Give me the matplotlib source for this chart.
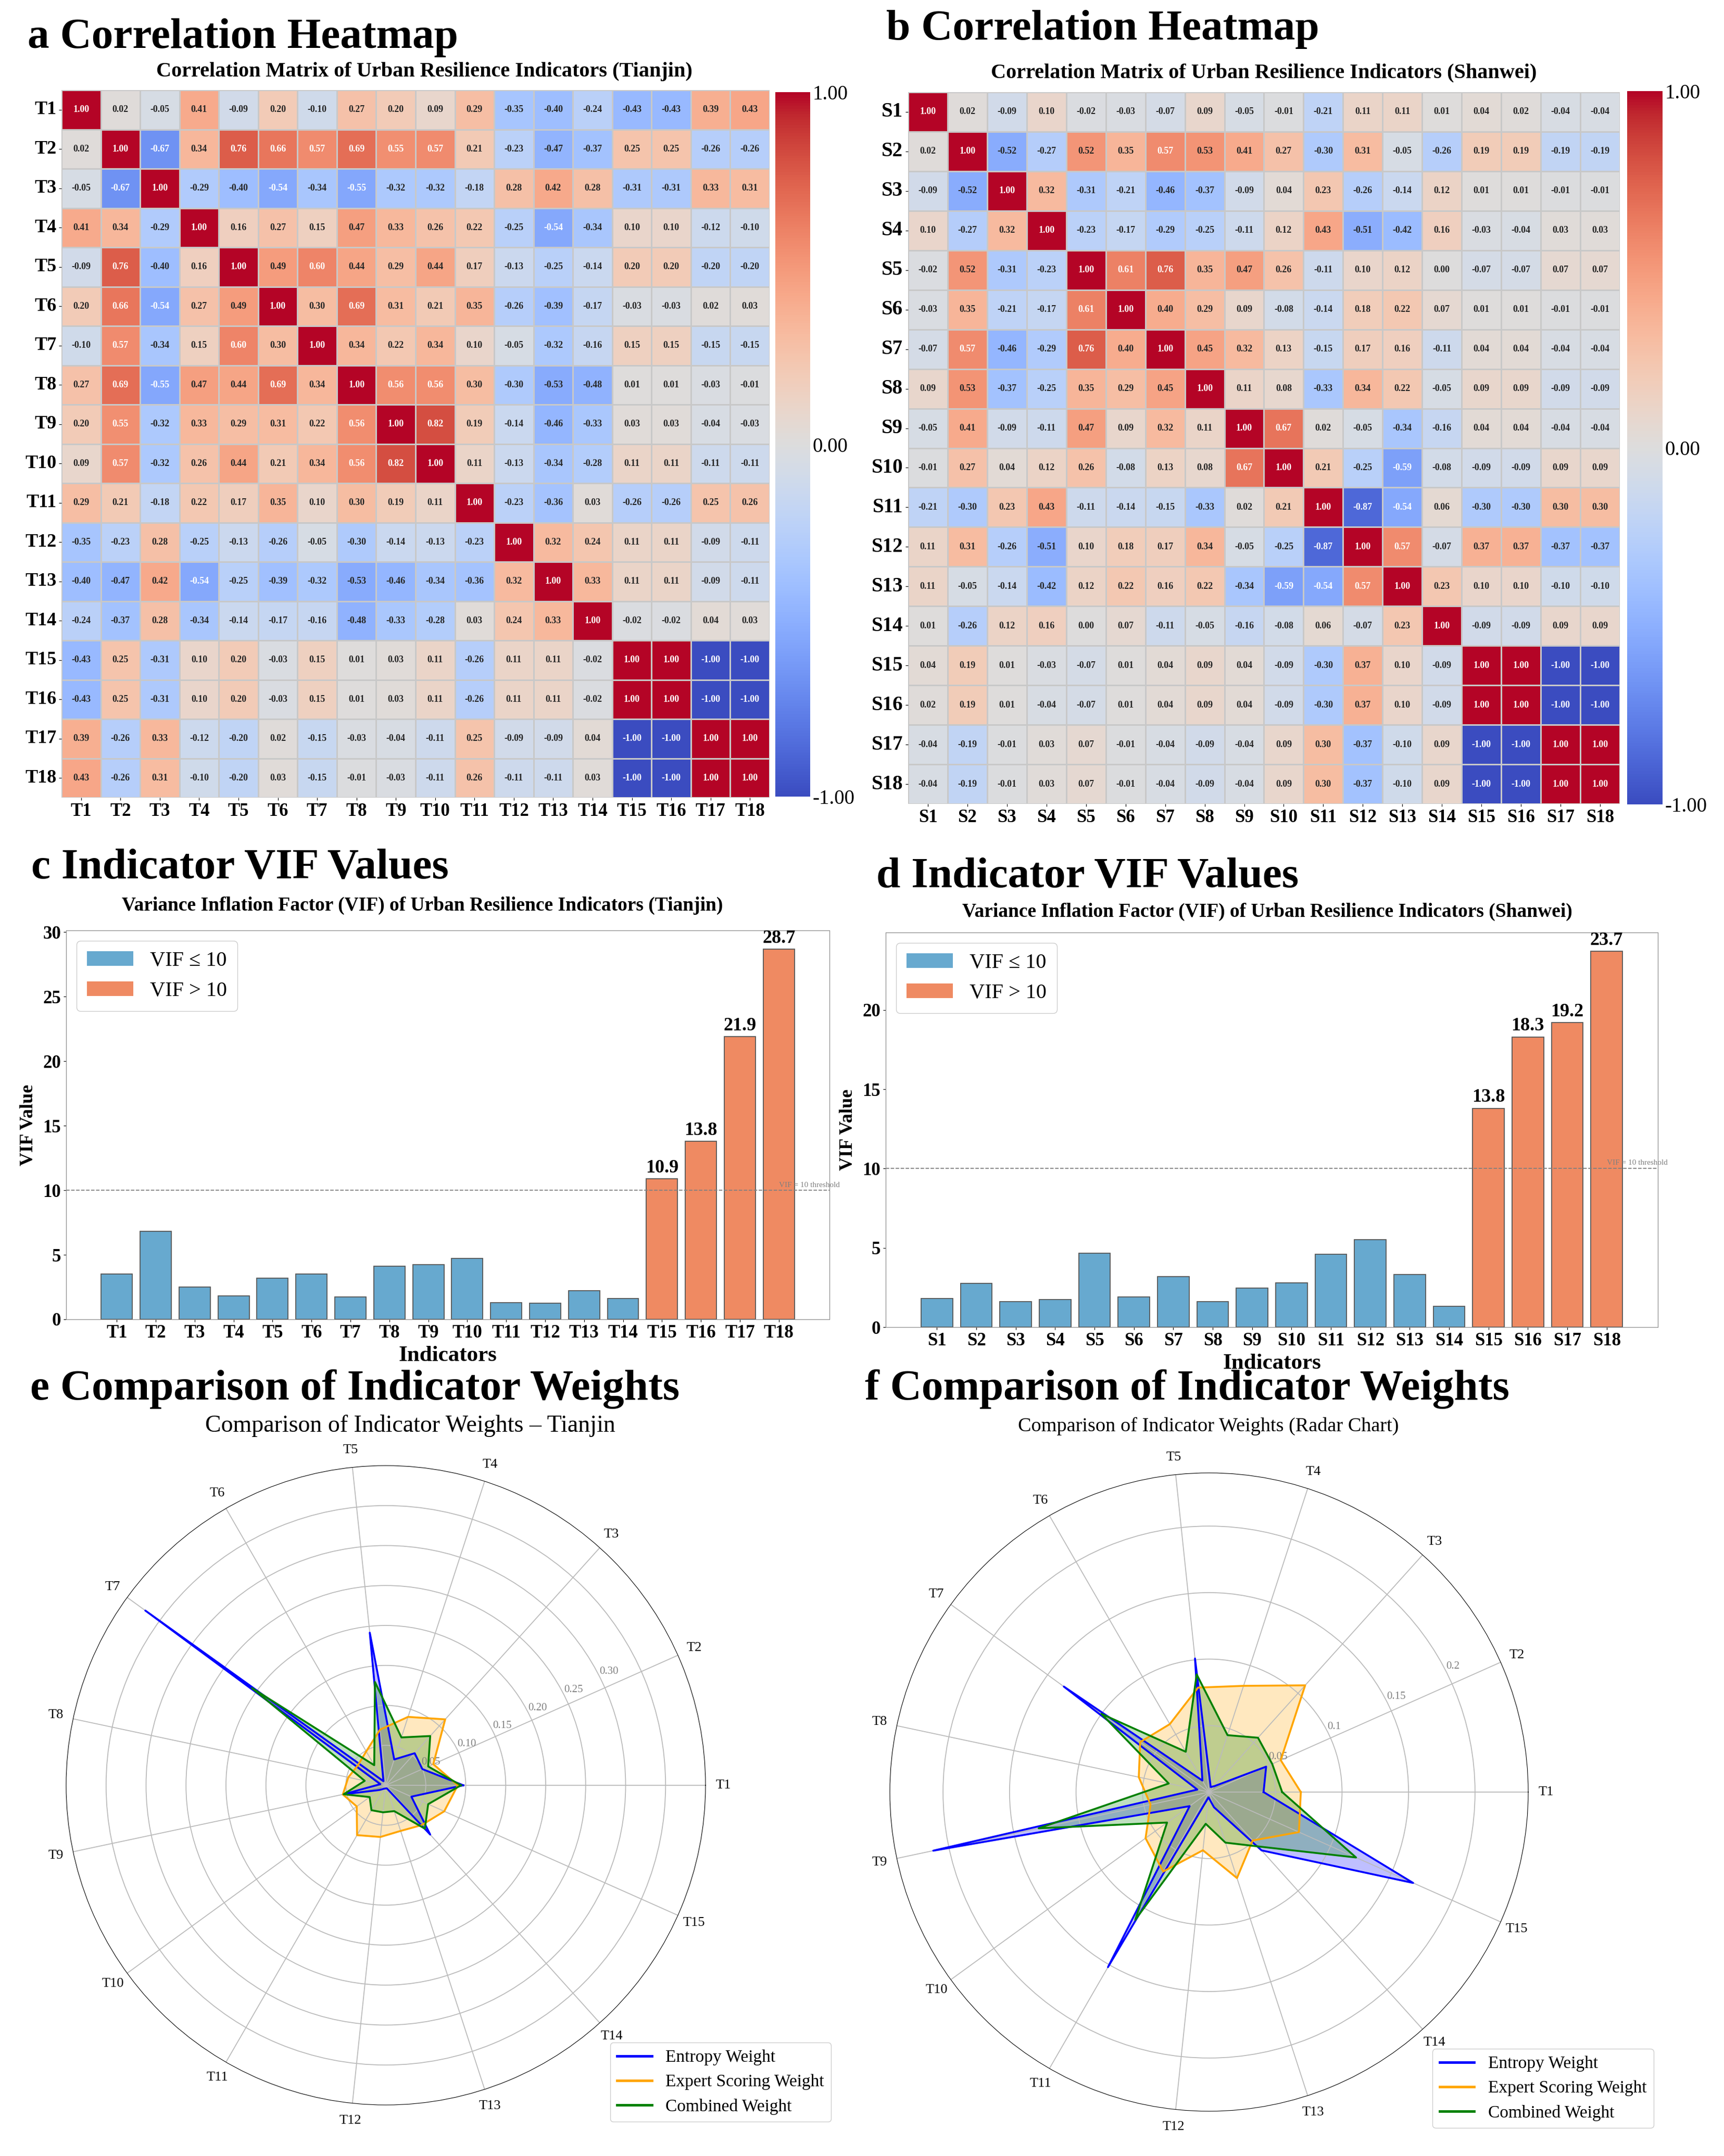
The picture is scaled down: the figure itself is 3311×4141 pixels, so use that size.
import numpy as np
import pandas as pd
import matplotlib
matplotlib.use('Agg')
import matplotlib.pyplot as plt
import seaborn as sns
from matplotlib.patches import Patch

plt.rcParams['font.family'] = ['Liberation Serif', 'DejaVu Serif']

# indicator names
tj_labels = ['T%d' % i for i in range(1, 19)]
sw_labels = ['S%d' % i for i in range(1, 19)]
radar_labels = ['T%d' % i for i in range(1, 16)]

# correlation matrix, Tianjin
tj_corr = [
    [1.00, 0.02, -0.05, 0.41, -0.09, 0.20, -0.10, 0.27, 0.20, 0.09, 0.29, -0.35, -0.40, -0.24, -0.43, -0.43, 0.39, 0.43],
    [0.02, 1.00, -0.67, 0.34, 0.76, 0.66, 0.57, 0.69, 0.55, 0.57, 0.21, -0.23, -0.47, -0.37, 0.25, 0.25, -0.26, -0.26],
    [-0.05, -0.67, 1.00, -0.29, -0.40, -0.54, -0.34, -0.55, -0.32, -0.32, -0.18, 0.28, 0.42, 0.28, -0.31, -0.31, 0.33, 0.31],
    [0.41, 0.34, -0.29, 1.00, 0.16, 0.27, 0.15, 0.47, 0.33, 0.26, 0.22, -0.25, -0.54, -0.34, 0.10, 0.10, -0.12, -0.10],
    [-0.09, 0.76, -0.40, 0.16, 1.00, 0.49, 0.60, 0.44, 0.29, 0.44, 0.17, -0.13, -0.25, -0.14, 0.20, 0.20, -0.20, -0.20],
    [0.20, 0.66, -0.54, 0.27, 0.49, 1.00, 0.30, 0.69, 0.31, 0.21, 0.35, -0.26, -0.39, -0.17, -0.03, -0.03, 0.02, 0.03],
    [-0.10, 0.57, -0.34, 0.15, 0.60, 0.30, 1.00, 0.34, 0.22, 0.34, 0.10, -0.05, -0.32, -0.16, 0.15, 0.15, -0.15, -0.15],
    [0.27, 0.69, -0.55, 0.47, 0.44, 0.69, 0.34, 1.00, 0.56, 0.56, 0.30, -0.30, -0.53, -0.48, 0.01, 0.01, -0.03, -0.01],
    [0.20, 0.55, -0.32, 0.33, 0.29, 0.31, 0.22, 0.56, 1.00, 0.82, 0.19, -0.14, -0.46, -0.33, 0.03, 0.03, -0.04, -0.03],
    [0.09, 0.57, -0.32, 0.26, 0.44, 0.21, 0.34, 0.56, 0.82, 1.00, 0.11, -0.13, -0.34, -0.28, 0.11, 0.11, -0.11, -0.11],
    [0.29, 0.21, -0.18, 0.22, 0.17, 0.35, 0.10, 0.30, 0.19, 0.11, 1.00, -0.23, -0.36, 0.03, -0.26, -0.26, 0.25, 0.26],
    [-0.35, -0.23, 0.28, -0.25, -0.13, -0.26, -0.05, -0.30, -0.14, -0.13, -0.23, 1.00, 0.32, 0.24, 0.11, 0.11, -0.09, -0.11],
    [-0.40, -0.47, 0.42, -0.54, -0.25, -0.39, -0.32, -0.53, -0.46, -0.34, -0.36, 0.32, 1.00, 0.33, 0.11, 0.11, -0.09, -0.11],
    [-0.24, -0.37, 0.28, -0.34, -0.14, -0.17, -0.16, -0.48, -0.33, -0.28, 0.03, 0.24, 0.33, 1.00, -0.02, -0.02, 0.04, 0.03],
    [-0.43, 0.25, -0.31, 0.10, 0.20, -0.03, 0.15, 0.01, 0.03, 0.11, -0.26, 0.11, 0.11, -0.02, 1.00, 1.00, -1.00, -1.00],
    [-0.43, 0.25, -0.31, 0.10, 0.20, -0.03, 0.15, 0.01, 0.03, 0.11, -0.26, 0.11, 0.11, -0.02, 1.00, 1.00, -1.00, -1.00],
    [0.39, -0.26, 0.33, -0.12, -0.20, 0.02, -0.15, -0.03, -0.04, -0.11, 0.25, -0.09, -0.09, 0.04, -1.00, -1.00, 1.00, 1.00],
    [0.43, -0.26, 0.31, -0.10, -0.20, 0.03, -0.15, -0.01, -0.03, -0.11, 0.26, -0.11, -0.11, 0.03, -1.00, -1.00, 1.00, 1.00],
]

# correlation matrix, Shanwei
sw_corr = [
    [1.00, 0.02, -0.09, 0.10, -0.02, -0.03, -0.07, 0.09, -0.05, -0.01, -0.21, 0.11, 0.11, 0.01, 0.04, 0.02, -0.04, -0.04],
    [0.02, 1.00, -0.52, -0.27, 0.52, 0.35, 0.57, 0.53, 0.41, 0.27, -0.30, 0.31, -0.05, -0.26, 0.19, 0.19, -0.19, -0.19],
    [-0.09, -0.52, 1.00, 0.32, -0.31, -0.21, -0.46, -0.37, -0.09, 0.04, 0.23, -0.26, -0.14, 0.12, 0.01, 0.01, -0.01, -0.01],
    [0.10, -0.27, 0.32, 1.00, -0.23, -0.17, -0.29, -0.25, -0.11, 0.12, 0.43, -0.51, -0.42, 0.16, -0.03, -0.04, 0.03, 0.03],
    [-0.02, 0.52, -0.31, -0.23, 1.00, 0.61, 0.76, 0.35, 0.47, 0.26, -0.11, 0.10, 0.12, 0.00, -0.07, -0.07, 0.07, 0.07],
    [-0.03, 0.35, -0.21, -0.17, 0.61, 1.00, 0.40, 0.29, 0.09, -0.08, -0.14, 0.18, 0.22, 0.07, 0.01, 0.01, -0.01, -0.01],
    [-0.07, 0.57, -0.46, -0.29, 0.76, 0.40, 1.00, 0.45, 0.32, 0.13, -0.15, 0.17, 0.16, -0.11, 0.04, 0.04, -0.04, -0.04],
    [0.09, 0.53, -0.37, -0.25, 0.35, 0.29, 0.45, 1.00, 0.11, 0.08, -0.33, 0.34, 0.22, -0.05, 0.09, 0.09, -0.09, -0.09],
    [-0.05, 0.41, -0.09, -0.11, 0.47, 0.09, 0.32, 0.11, 1.00, 0.67, 0.02, -0.05, -0.34, -0.16, 0.04, 0.04, -0.04, -0.04],
    [-0.01, 0.27, 0.04, 0.12, 0.26, -0.08, 0.13, 0.08, 0.67, 1.00, 0.21, -0.25, -0.59, -0.08, -0.09, -0.09, 0.09, 0.09],
    [-0.21, -0.30, 0.23, 0.43, -0.11, -0.14, -0.15, -0.33, 0.02, 0.21, 1.00, -0.87, -0.54, 0.06, -0.30, -0.30, 0.30, 0.30],
    [0.11, 0.31, -0.26, -0.51, 0.10, 0.18, 0.17, 0.34, -0.05, -0.25, -0.87, 1.00, 0.57, -0.07, 0.37, 0.37, -0.37, -0.37],
    [0.11, -0.05, -0.14, -0.42, 0.12, 0.22, 0.16, 0.22, -0.34, -0.59, -0.54, 0.57, 1.00, 0.23, 0.10, 0.10, -0.10, -0.10],
    [0.01, -0.26, 0.12, 0.16, 0.00, 0.07, -0.11, -0.05, -0.16, -0.08, 0.06, -0.07, 0.23, 1.00, -0.09, -0.09, 0.09, 0.09],
    [0.04, 0.19, 0.01, -0.03, -0.07, 0.01, 0.04, 0.09, 0.04, -0.09, -0.30, 0.37, 0.10, -0.09, 1.00, 1.00, -1.00, -1.00],
    [0.02, 0.19, 0.01, -0.04, -0.07, 0.01, 0.04, 0.09, 0.04, -0.09, -0.30, 0.37, 0.10, -0.09, 1.00, 1.00, -1.00, -1.00],
    [-0.04, -0.19, -0.01, 0.03, 0.07, -0.01, -0.04, -0.09, -0.04, 0.09, 0.30, -0.37, -0.10, 0.09, -1.00, -1.00, 1.00, 1.00],
    [-0.04, -0.19, -0.01, 0.03, 0.07, -0.01, -0.04, -0.09, -0.04, 0.09, 0.30, -0.37, -0.10, 0.09, -1.00, -1.00, 1.00, 1.00],
]

# VIF values
tj_vif = [3.5, 6.8, 2.5, 1.8, 3.2, 3.5, 1.75, 4.1, 4.25, 4.7, 1.3, 1.25, 2.2, 1.6, 10.9, 13.8, 21.9, 28.7]
sw_vif = [1.8, 2.75, 1.6, 1.75, 4.65, 1.9, 3.2, 1.6, 2.45, 2.8, 4.6, 5.5, 3.3, 1.3, 13.8, 18.3, 19.2, 23.7]

# radar weights, Tianjin
tj_entropy = [0.097, 0.050, 0.054, 0.034, 0.192, 0.006, 0.372, 0.007, 0.055, 0.010, 0.005, 0.004, 0.004, 0.083, 0.035]
tj_expert = [0.090, 0.065, 0.111, 0.090, 0.070, 0.049, 0.043, 0.048, 0.055, 0.045, 0.072, 0.065, 0.060, 0.067, 0.080]
tj_combined = [0.094, 0.058, 0.083, 0.063, 0.130, 0.029, 0.207, 0.027, 0.054, 0.025, 0.036, 0.034, 0.034, 0.073, 0.058]

# radar weights, Shanwei
sw_entropy = [0.041, 0.047, 0.006, 0.004, 0.101, 0.010, 0.135, 0.009, 0.212, 0.018, 0.152, 0.004, 0.012, 0.059, 0.168]
sw_expert = [0.069, 0.059, 0.108, 0.084, 0.079, 0.059, 0.064, 0.054, 0.045, 0.059, 0.069, 0.044, 0.068, 0.049, 0.074]
sw_combined = [0.055, 0.052, 0.055, 0.045, 0.089, 0.035, 0.100, 0.031, 0.131, 0.039, 0.111, 0.024, 0.040, 0.055, 0.121]

W, H = 3312, 4141


def box(x0, y0, x1, y1):
    # pixel box (top-left origin) -> figure fraction rect
    return [x0 / W, 1 - y1 / H, (x1 - x0) / W, (y1 - y0) / H]


def draw_heatmap(ax, cax, corr, labels, ylab_size):
    df = pd.DataFrame(corr, index=labels, columns=labels)
    sns.heatmap(df, ax=ax, cbar_ax=cax, cmap='coolwarm', vmin=-1, vmax=1,
                annot=True, fmt='.2f', annot_kws={'size': 13, 'weight': 'bold'},
                linewidths=0.8, linecolor='#c8c8c8', cbar_kws={'ticks': [-1, 0, 1]})
    ax.set_xticklabels(labels, rotation=0, fontsize=25, fontweight='bold')
    ax.set_yticklabels(labels, rotation=0, fontsize=ylab_size, fontweight='bold')
    cax.set_yticklabels(['-1.00', '0.00', '1.00'], fontsize=28)
    cax.tick_params(length=0)
    ax.collections[0].colorbar.outline.set_visible(False)


def draw_vif(ax, vif, labels):
    x = np.arange(len(vif))
    colors = ['#ef8a62' if v > 10 else '#67a9cf' for v in vif]
    ax.bar(x, vif, width=0.8, color=colors, edgecolor='#555555', linewidth=1.3)
    ax.axhline(10, color='gray', ls='--', lw=1.3)
    ax.text(len(vif) - 1, 10.25, 'VIF = 10 threshold', fontsize=11, color='gray')
    for xi, v in zip(x, vif):
        if v > 10:
            ax.text(xi, v + 0.15, '%.1f' % v, ha='center', va='bottom', fontsize=26, fontweight='bold')
    ax.set_xticks(x)
    ax.set_xticklabels(labels, fontsize=25, fontweight='bold')
    ax.set_xlim(-1.3, len(vif) + 0.3)
    ax.set_yticks(np.arange(0, 31, 5))
    ax.set_ylim(0, max(vif) * 1.05)
    for t in ax.get_yticklabels():
        t.set_fontsize(25)
        t.set_fontweight('bold')
    ax.set_xlabel('Indicators', fontsize=31, fontweight='bold', labelpad=6)
    ax.set_ylabel('VIF Value', fontsize=26, fontweight='bold', labelpad=8)
    for s in ax.spines.values():
        s.set_color('#888888')
    handles = [Patch(facecolor='#67a9cf', label='VIF \u2264 10'),
               Patch(facecolor='#ef8a62', label='VIF > 10')]
    ax.legend(handles=handles, loc='upper left', fontsize=29, framealpha=1,
              edgecolor='#cccccc', handlelength=2.2, borderpad=0.5)


def draw_radar(ax, ent, exp, comb, rmax, rticks, rlabels):
    n = len(ent)
    angles = np.linspace(0, 2 * np.pi, n, endpoint=False)
    ang = np.append(angles, angles[0])
    series = [(ent, 'blue', 'Entropy Weight'),
              (exp, 'orange', 'Expert Scoring Weight'),
              (comb, 'green', 'Combined Weight')]
    for vals, color, name in series:
        v = np.append(vals, vals[0])
        ax.plot(ang, v, color=color, lw=2.6, label=name)
        ax.fill(ang, v, color=color, alpha=0.25)
    ax.set_xticks(angles)
    ax.set_xticklabels(radar_labels, fontsize=19)
    ax.tick_params(axis='x', pad=14)
    ax.set_ylim(0, rmax)
    ax.set_yticks(rticks)
    ax.set_yticklabels(rlabels, fontsize=15, color='gray')
    ax.set_rlabel_position(27)
    ax.grid(color='#bbbbbb', lw=1.3)
    ax.spines['polar'].set_color('black')
    leg = ax.legend(loc='lower right', bbox_to_anchor=(1.21, -0.04), fontsize=24,
                    framealpha=1, edgecolor='#cccccc')
    for line in leg.get_lines():
        line.set_linewidth(3.5)


fig = plt.figure(figsize=(W / 100, H / 100), dpi=100)

# a / b : correlation heatmaps
ax_a = fig.add_axes(box(118, 173, 1478, 1532))
cax_a = fig.add_axes(box(1489, 177, 1556, 1530))
draw_heatmap(ax_a, cax_a, tj_corr, tj_labels, 26)

ax_b = fig.add_axes(box(1744, 177, 3111, 1544))
cax_b = fig.add_axes(box(3125, 175, 3193, 1545))
draw_heatmap(ax_b, cax_b, sw_corr, sw_labels, 28)

# c / d : VIF bars
ax_c = fig.add_axes(box(127, 1787, 1593, 2534))
draw_vif(ax_c, tj_vif, tj_labels)
ax_d = fig.add_axes(box(1701, 1791, 3184, 2549))
draw_vif(ax_d, sw_vif, sw_labels)

# e / f : radar charts
ax_e = fig.add_axes(box(127, 2815, 1355, 4043), projection='polar')
draw_radar(ax_e, tj_entropy, tj_expert, tj_combined, 0.40,
           [0.05, 0.10, 0.15, 0.20, 0.25, 0.30, 0.35],
           ['0.05', '0.10', '0.15', '0.20', '0.25', '0.30', ''])
ax_f = fig.add_axes(box(1709, 2829, 2935, 4055), projection='polar')
draw_radar(ax_f, sw_entropy, sw_expert, sw_combined, 0.24,
           [0.05, 0.10, 0.15, 0.20], ['0.05', '0.1', '0.15', '0.2'])

# panel titles and subtitles
big = dict(fontsize=60, fontweight='bold', va='center', ha='left')
sub = dict(fontsize=29, fontweight='bold', va='center', ha='center')
fig.text(53 / W, 1 - 73 / H, 'a Correlation Heatmap', **big)
fig.text(815 / W, 1 - 137 / H, 'Correlation Matrix of Urban Resilience Indicators (Tianjin)', **sub)
fig.text(1702 / W, 1 - 57 / H, 'b Correlation Heatmap', **big)
fig.text(2427 / W, 1 - 140 / H, 'Correlation Matrix of Urban Resilience Indicators (Shanwei)', **sub)
fig.text(60 / W, 1 - 1667 / H, 'c Indicator VIF Values', **big)
fig.text(811 / W, 1 - 1739 / H, 'Variance Inflation Factor (VIF) of Urban Resilience Indicators (Tianjin)',
         fontsize=27, fontweight='bold', va='center', ha='center')
fig.text(1683 / W, 1 - 1684 / H, 'd Indicator VIF Values', **big)
fig.text(2434 / W, 1 - 1751 / H, 'Variance Inflation Factor (VIF) of Urban Resilience Indicators (Shanwei)',
         fontsize=27, fontweight='bold', va='center', ha='center')
fig.text(58 / W, 1 - 2668 / H, 'e Comparison of Indicator Weights', **big)
fig.text(788 / W, 1 - 2738 / H, 'Comparison of Indicator Weights \u2013 Tianjin',
         fontsize=33, va='center', ha='center')
fig.text(1661 / W, 1 - 2668 / H, 'f Comparison of Indicator Weights', **big)
fig.text(2321 / W, 1 - 2739 / H, 'Comparison of Indicator Weights (Radar Chart)',
         fontsize=27.5, va='center', ha='center')

fig.savefig('out.png', dpi=100)
